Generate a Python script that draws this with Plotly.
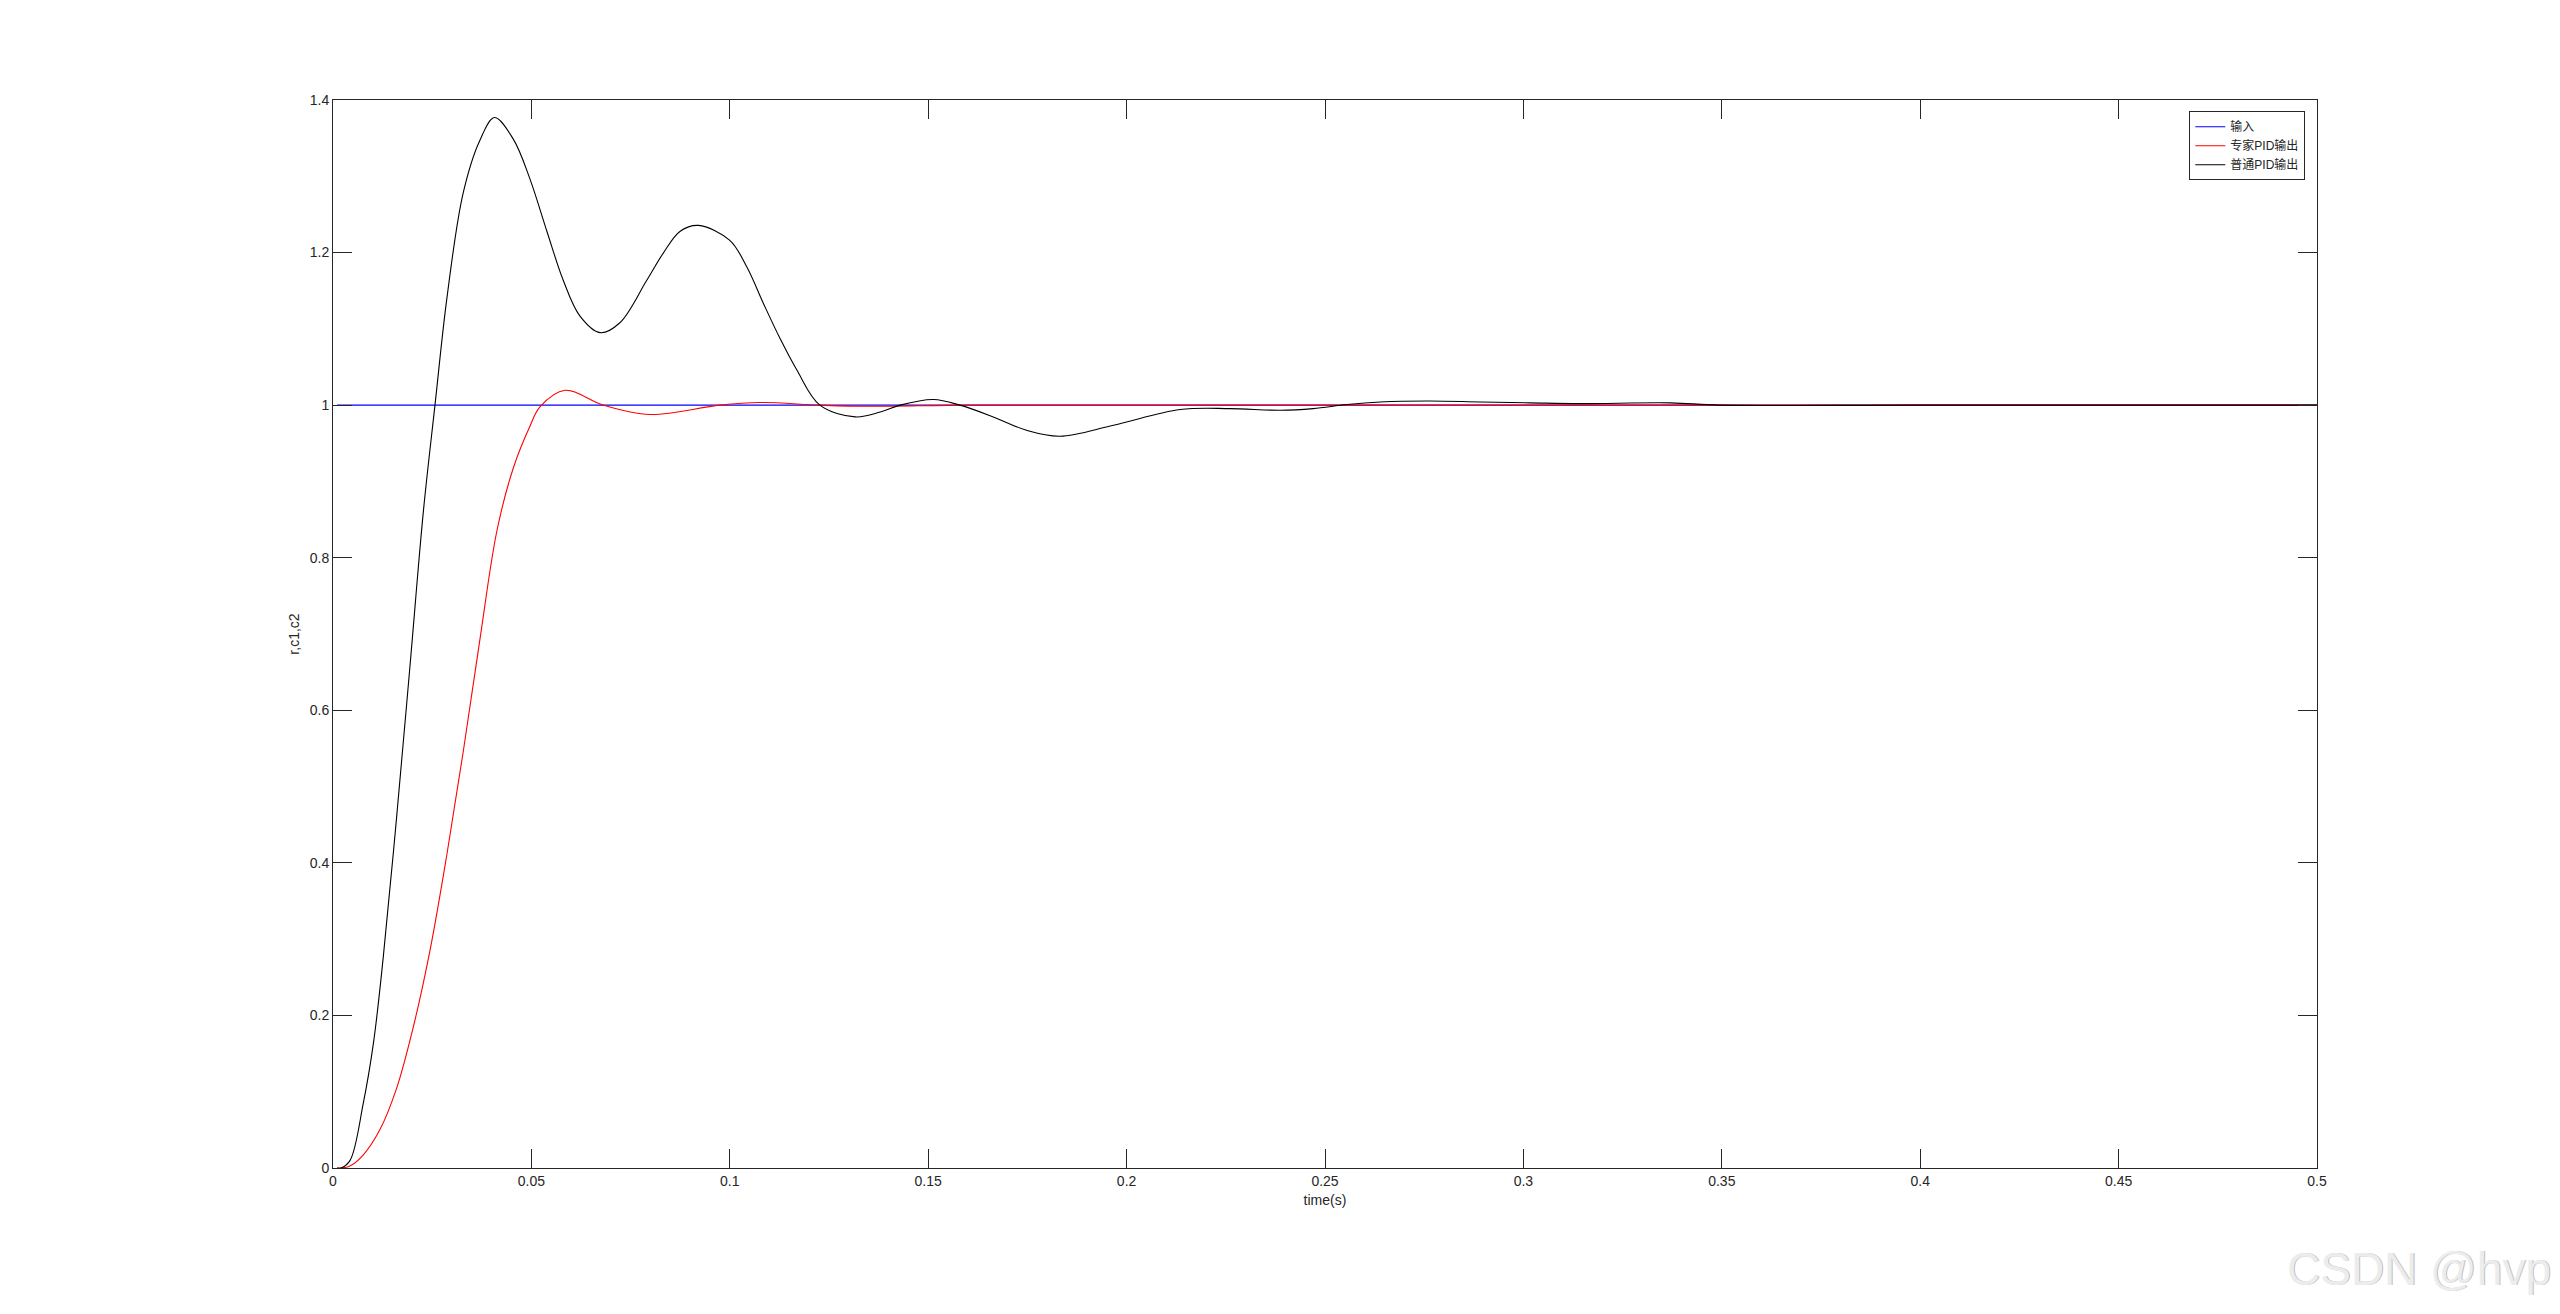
import plotly.graph_objects as go

# ---- data ----
t_input = [0.001, 0.5]
r_input = [1.0, 1.0]

t_expert = [0.001, 0.004, 0.0076, 0.0118, 0.016, 0.0202, 0.0244, 0.0287, 0.0328, 0.037,
            0.0413, 0.0454, 0.0496, 0.0522, 0.0585, 0.0681, 0.0799, 0.0975, 0.1076,
            0.1227, 0.1345, 0.16, 0.2, 0.3, 0.4, 0.5]
c_expert = [0.0, 0.002, 0.017, 0.050, 0.104, 0.184, 0.284, 0.411, 0.545, 0.692,
            0.835, 0.917, 0.972, 0.998, 1.0195, 1.0, 0.9877, 1.0, 1.0034,
            1.0, 0.9985, 1.0, 1.0, 1.0, 1.0, 1.0]

t_normal = [0.001, 0.002, 0.0043, 0.0076, 0.0102, 0.0127, 0.016, 0.0194, 0.0228, 0.0257,
            0.0287, 0.0328, 0.037, 0.0407, 0.0454, 0.0496, 0.0539, 0.058, 0.0622, 0.0673,
            0.0723, 0.079, 0.0832, 0.0875, 0.0921, 0.1, 0.1043, 0.1085, 0.1127, 0.1169,
            0.1227, 0.1316, 0.1379, 0.1429, 0.1513, 0.158, 0.1664, 0.1748,
            0.1832, 0.1967, 0.2135, 0.226, 0.2387, 0.247, 0.2555, 0.2639, 0.2763, 0.289,
            0.3017, 0.3143, 0.337, 0.3495, 0.4, 0.5]
c_normal = [0.0, 0.0, 0.010, 0.084, 0.164, 0.278, 0.458, 0.658, 0.862, 1.0,
            1.140, 1.278, 1.347, 1.377, 1.349, 1.297, 1.228, 1.164, 1.117, 1.095,
            1.108, 1.163, 1.199, 1.228, 1.2356, 1.216, 1.181, 1.133, 1.087, 1.046,
            1.0, 0.9846, 0.991, 1.0, 1.0073, 1.0, 0.9846, 0.967,
            0.9593, 0.9737, 0.9942, 0.9955, 0.9933, 0.9955, 1.0008, 1.0042, 1.0055, 1.0042,
            1.003, 1.002, 1.003, 1.0, 1.0, 1.0]

legend_names = ["输入", "专家PID输出", "普通PID输出"]
x_ticks = [0, 0.05, 0.1, 0.15, 0.2, 0.25, 0.3, 0.35, 0.4, 0.45, 0.5]
x_ticktext = ["0", "0.05", "0.1", "0.15", "0.2", "0.25", "0.3", "0.35", "0.4", "0.45", "0.5"]
y_ticks = [0, 0.2, 0.4, 0.6, 0.8, 1.0, 1.2, 1.4]
y_ticktext = ["0", "0.2", "0.4", "0.6", "0.8", "1", "1.2", "1.4"]

FONT = "Liberation Sans, Arial, Noto Sans CJK SC, sans-serif"
AX = "#262626"

fig = go.Figure()
fig.add_trace(go.Scatter(x=t_input, y=r_input, mode="lines", name=legend_names[0],
                         line=dict(color="#0000ff", width=1.1)))
fig.add_trace(go.Scatter(x=t_expert, y=c_expert, mode="lines", name=legend_names[1],
                         line=dict(color="#ff0000", width=1.1, shape="spline", smoothing=1.0)))
fig.add_trace(go.Scatter(x=t_normal, y=c_normal, mode="lines", name=legend_names[2],
                         line=dict(color="#000000", width=1.1, shape="spline", smoothing=1.0)))

axis_common = dict(showgrid=False, zeroline=False, showline=True, linecolor=AX, linewidth=1,
                   mirror="ticks", ticks="inside", ticklen=19, tickwidth=1, tickcolor=AX,
                   tickfont=dict(family=FONT, size=14, color=AX))

fig.update_layout(
    width=2552, height=1306,
    paper_bgcolor="white", plot_bgcolor="white",
    margin=dict(l=325, r=243, t=92, b=146, autoexpand=False),
    showlegend=True,
    legend=dict(x=0.9941, y=0.9895, xanchor="right", yanchor="top",
                bgcolor="white", bordercolor=AX, borderwidth=1,
                font=dict(family="Liberation Sans, Noto Sans CJK SC, sans-serif", size=12, color=AX),
                itemwidth=30, tracegroupgap=0),
    xaxis=dict(range=[0, 0.5], tickvals=x_ticks, ticktext=x_ticktext,
               title=dict(text="time(s)", font=dict(family=FONT, size=14, color=AX), standoff=7),
               **axis_common),
    yaxis=dict(range=[0, 1.4], tickvals=y_ticks, ticktext=y_ticktext,
               title=dict(text="r,c1,c2", font=dict(family=FONT, size=14, color=AX), standoff=6),
               **axis_common),
)

# watermark
fig.add_annotation(text="CSDN @hvp", xref="paper", yref="paper", x=1.1195, y=-0.095,
                   xanchor="right", yanchor="middle", showarrow=False,
                   font=dict(family="Liberation Sans, Arial, sans-serif", size=46, color="#bdbdbd"))
fig.add_annotation(text="CSDN @hvp", xref="paper", yref="paper", x=1.119, y=-0.0945,
                   xanchor="right", yanchor="middle", showarrow=False,
                   font=dict(family="Liberation Sans, Arial, sans-serif", size=46, color="#ececec"))

fig.write_html("out.html")
